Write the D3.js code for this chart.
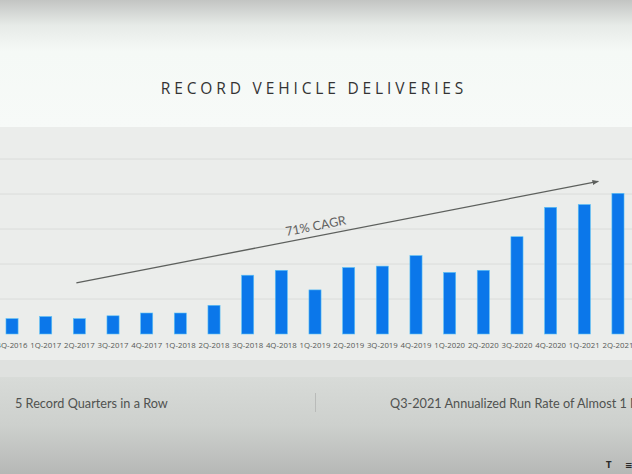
<!DOCTYPE html>
<html>
<head>
<meta charset="utf-8">
<script src="https://d3js.org/d3.v7.min.js"></script>
<style>
  html, body { margin: 0; padding: 0; background: #f6f9f7; }
  svg { display: block; }
</style>
</head>
<body>
<div id="viz"></div>
<script>
// deliveries per quarter, thousands
var quarters = ["4Q-2016","1Q-2017","2Q-2017","3Q-2017","4Q-2017","1Q-2018","2Q-2018",
                "3Q-2018","4Q-2018","1Q-2019","2Q-2019","3Q-2019","4Q-2019","1Q-2020",
                "2Q-2020","3Q-2020","4Q-2020","1Q-2021","2Q-2021"];
var deliveries = [22, 25, 22, 26, 30, 30, 41, 84, 91, 63, 95, 97, 112, 88, 91, 139, 181, 185, 201];
var gridValues = [50, 100, 150, 200, 250];
var title = "RECORD VEHICLE DELIVERIES";
var trendLabel = "71% CAGR";
var trendFrom = { q: "2Q-2017", v: 73 };
var trendTo = { q: "1Q-2021", v: 218 };
var footLeft = "5 Record Quarters in a Row";
var footRight = "Q3-2021 Annualized Run Rate of Almost 1 Million";

var W = 632, H = 474;

var svg = d3.select("#viz").append("svg")
    .attr("width", W)
    .attr("height", H);

var defs = svg.append("defs");

var topGrad = defs.append("linearGradient").attr("id", "topGrad")
    .attr("x1", 0).attr("y1", 0).attr("x2", 0).attr("y2", 1);
topGrad.append("stop").attr("offset", "0%").attr("stop-color", "#c3c5c3");
topGrad.append("stop").attr("offset", "20%").attr("stop-color", "#e7ebe8");
topGrad.append("stop").attr("offset", "40%").attr("stop-color", "#f5f9f6");
topGrad.append("stop").attr("offset", "100%").attr("stop-color", "#f7faf8");

var botGrad = defs.append("linearGradient").attr("id", "botGrad")
    .attr("x1", 0).attr("y1", 0).attr("x2", 0).attr("y2", 1);
botGrad.append("stop").attr("offset", "0%").attr("stop-color", "#d8dbd8");
botGrad.append("stop").attr("offset", "50%").attr("stop-color", "#cdd0cd");
botGrad.append("stop").attr("offset", "100%").attr("stop-color", "#b6b8b6");

// background bands
svg.append("rect").attr("x", 0).attr("y", 0).attr("width", W).attr("height", 128)
    .attr("fill", "url(#topGrad)");
svg.append("rect").attr("x", 0).attr("y", 127).attr("width", W).attr("height", 250)
    .attr("fill", "#ebedeb");
svg.append("rect").attr("x", 0).attr("y", 360).attr("width", W).attr("height", 18)
    .attr("fill", "#dfe1df");
svg.append("rect").attr("x", 0).attr("y", 377).attr("width", W).attr("height", H - 377)
    .attr("fill", "url(#botGrad)");

svg.append("text")
    .attr("x", 314)
    .attr("y", 94)
    .attr("text-anchor", "middle")
    .style("font-family", "'Open Sans', sans-serif")
    .style("font-size", "15.5px")
    .style("letter-spacing", "3.85px")
    .style("fill", "#333")
    .text(title);

var x = d3.scaleBand()
    .domain(quarters)
    .range([-4.8, 634.8])
    .paddingInner(0.64)
    .paddingOuter(0.32);

var y = d3.scaleLinear()
    .domain([0, 300])
    .range([334, 124]);

// gridlines
svg.append("g")
    .selectAll("line")
    .data(gridValues)
    .enter().append("line")
    .attr("x1", 0).attr("x2", W)
    .attr("y1", function(d) { return y(d); })
    .attr("y2", function(d) { return y(d); })
    .style("stroke", "#dadcda")
    .style("stroke-width", 1);

// bars
svg.append("g")
    .selectAll("rect")
    .data(deliveries)
    .enter().append("rect")
    .attr("x", function(d, i) { return x(quarters[i]); })
    .attr("width", x.bandwidth())
    .attr("y", function(d) { return y(d); })
    .attr("height", function(d) { return y(0) - y(d); })
    .style("fill", "#0b77ea")
    .style("stroke", "#5fc4f5")
    .style("stroke-width", 0.6);

// quarter labels
var xAxis = svg.append("g")
    .attr("transform", "translate(0," + y(0) + ")")
    .call(d3.axisBottom(x).tickSize(0).tickPadding(8));
xAxis.select(".domain").remove();
xAxis.selectAll("text")
    .style("font-family", "'Open Sans', sans-serif")
    .style("font-size", "7.8px")
    .style("fill", "#565856");

// trend arrow
var x1 = x(trendFrom.q) + x.bandwidth() / 2 - 3,
    y1 = y(trendFrom.v),
    x2 = x(trendTo.q) + x.bandwidth() / 2 + 14,
    y2 = y(trendTo.v);

defs.append("marker")
    .attr("id", "arrowHead")
    .attr("viewBox", "0 0 10 10")
    .attr("refX", 9).attr("refY", 5)
    .attr("markerWidth", 5).attr("markerHeight", 5)
    .attr("orient", "auto")
    .append("path")
    .attr("d", "M0,1 L10,5 L0,9 z")
    .style("fill", "#5d605d");

svg.append("line")
    .attr("x1", x1).attr("y1", y1)
    .attr("x2", x2).attr("y2", y2)
    .style("stroke", "#5d605d")
    .style("stroke-width", 1.3)
    .attr("marker-end", "url(#arrowHead)");

var angle = Math.atan2(y2 - y1, x2 - x1) * 180 / Math.PI;
var tx = x1 + (x2 - x1) * 0.46, ty = y1 + (y2 - y1) * 0.46 - 6;
svg.append("text")
    .attr("transform", "translate(" + tx + "," + ty + ") rotate(" + angle + ")")
    .attr("text-anchor", "middle")
    .style("font-family", "Lato, sans-serif")
    .style("font-size", "12.5px")
    .style("fill", "#5f615f")
    .text(trendLabel);

// footer
svg.append("text")
    .attr("x", 15).attr("y", 408)
    .style("font-family", "Lato, sans-serif")
    .style("font-size", "12.7px")
    .style("fill", "#505250")
    .text(footLeft);

svg.append("line")
    .attr("x1", 315.5).attr("x2", 315.5)
    .attr("y1", 393).attr("y2", 412)
    .style("stroke", "#b9bbb9")
    .style("stroke-width", 1);

svg.append("text")
    .attr("x", 390).attr("y", 408)
    .style("font-family", "Lato, sans-serif")
    .style("font-size", "12.7px")
    .style("fill", "#505250")
    .text(footRight);

svg.append("text")
    .attr("x", 606).attr("y", 468)
    .style("font-family", "'DejaVu Sans', sans-serif")
    .style("font-size", "8px")
    .style("font-weight", "bold")
    .style("fill", "#2a2a2a")
    .text("T");
svg.append("text")
    .attr("x", 625).attr("y", 468)
    .style("font-family", "'DejaVu Sans', sans-serif")
    .style("font-size", "9px")
    .style("font-weight", "bold")
    .style("fill", "#2a2a2a")
    .text("≡");
</script>
</body>
</html>
